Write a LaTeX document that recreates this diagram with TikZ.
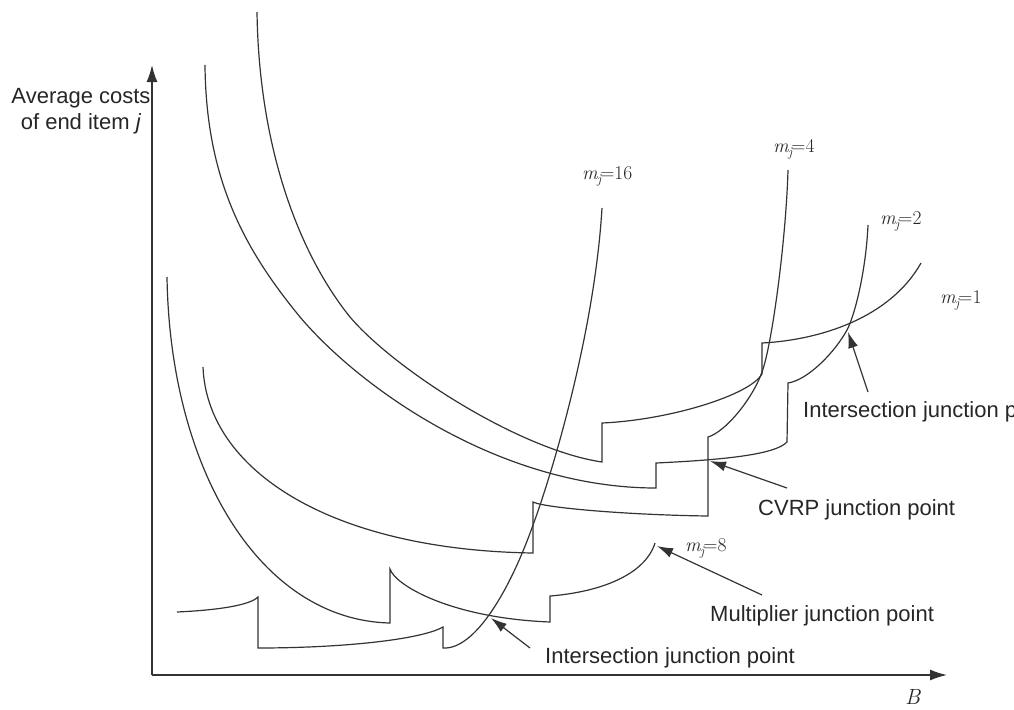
\documentclass[tikz,border=0pt]{standalone}
\usepackage[no-math]{fontspec}
\newfontfamily\labelfont{Liberation Sans}
\usetikzlibrary{arrows.meta}

% curve label m_j=<value>, set in Latin Modern italic
\newcommand{\mjlabel}[1]{{\itshape m}\kern-0.6pt\raisebox{-0.22em}{\fontsize{13.5}{14}\selectfont\itshape j}\kern-0.8pt{=}#1}

\tikzset{
  curve/.style={draw=black!80, line width=1.2pt, line join=miter},
  axis/.style={draw=black!80, line width=1.5pt, -{Latex[length=17pt,width=11pt]}},
  pointer/.style={draw=black!80, line width=1.2pt, -{Latex[length=16pt,width=10pt]}},
  sanslabel/.style={inner sep=0pt, font=\labelfont\fontsize{22}{26}\selectfont, text=black!85},
  mlabel/.style={inner sep=0pt, anchor=base west, font=\fontsize{19.5}{22}\selectfont, text=black!85},
}

\begin{document}
\begin{tikzpicture}[x=1pt,y=-1pt]
\useasboundingbox (0,0) rectangle (1014,709);

% axes
\coordinate (O) at (152,675);
\coordinate (ytip) at (152,65);
\coordinate (xtip) at (947,675);
\draw[axis] (O) -- (ytip);
\draw[axis] (O) -- (xtip);

\node[sanslabel, anchor=base] (ylab1) at (81,103) {Average costs};
\node[sanslabel, anchor=base] (ylab2) at (81,129) {of end item \textit{j}};
\node[inner sep=0pt, anchor=base west, font=\fontsize{22}{24}\selectfont\itshape, text=black!85] (xlab) at (905,704) {B};

% m_j = 1
\draw[curve] (257,12) .. controls (259,150) and (300,255) .. (350,317)
  .. controls (395,370) and (520,450) .. (602,462)
  -- (602,423) .. controls (670,420) and (750,395) .. (762,374)
  -- (762,343) .. controls (820,340) and (890,318) .. (921,263);

% m_j = 2
\draw[curve] (205,65) .. controls (206,180) and (245,250) .. (300,317)
  .. controls (360,388) and (500,488) .. (656,488)
  -- (656,463) .. controls (720,460) and (775,455) .. (787,442)
  -- (788,383) .. controls (808,380) and (835,352) .. (847,330)
  .. controls (855,315) and (866,270) .. (868,225);

% m_j = 4
\draw[curve] (203,367) .. controls (207,470) and (330,550) .. (533,553)
  -- (533,502) .. controls (545,508) and (630,515) .. (708,516)
  -- (708,437) .. controls (725,432) and (752,400) .. (762,372)
  .. controls (772,345) and (786,240) .. (788,170);

% m_j = 8
\draw[curve] (167,277) .. controls (170,470) and (260,620) .. (390,623)
  -- (390,569) .. controls (395,585) and (450,618) .. (550,622)
  -- (550,596) .. controls (600,592) and (645,575) .. (655,543);

% m_j = 16
\draw[curve] (177,612) .. controls (220,610) and (250,605) .. (258,597)
  -- (258,648) .. controls (340,648) and (420,640) .. (443,627)
  -- (443,648) .. controls (475,650) and (510,590) .. (533,525)
  .. controls (548,485) and (594,340) .. (602,208);

% curve labels
\node[mlabel] (m16) at (582,179) {\mjlabel{16}};
\node[mlabel] (m4) at (773,152) {\mjlabel{4}};
\node[mlabel] (m2) at (880,224) {\mjlabel{2}};
\node[mlabel] (m1) at (940,303) {\mjlabel{1}};
\node[mlabel] (m8) at (685,551) {\mjlabel{8}};

% junction points
\coordinate (jtop) at (848,332);
\coordinate (jcvrp) at (710,461);
\coordinate (jmult) at (657,546);
\coordinate (jbot) at (491,618);

\node[sanslabel, anchor=base west] (ttop) at (803,417) {Intersection junction point};
\node[sanslabel, anchor=base west] (tcvrp) at (758,515) {CVRP junction point};
\node[sanslabel, anchor=base west] (tmult) at (710,621) {Multiplier junction point};
\node[sanslabel, anchor=base west] (tbot) at (545,663) {Intersection junction point};

\coordinate (atop) at (868,392);
\coordinate (acvrp) at (787,488);
\coordinate (amult) at (762,595);
\coordinate (abot) at (530,648);

\draw[pointer] (atop) -- (jtop);
\draw[pointer] (acvrp) -- (jcvrp);
\draw[pointer] (amult) -- (jmult);
\draw[pointer] (abot) -- (jbot);
\end{tikzpicture}
\end{document}
